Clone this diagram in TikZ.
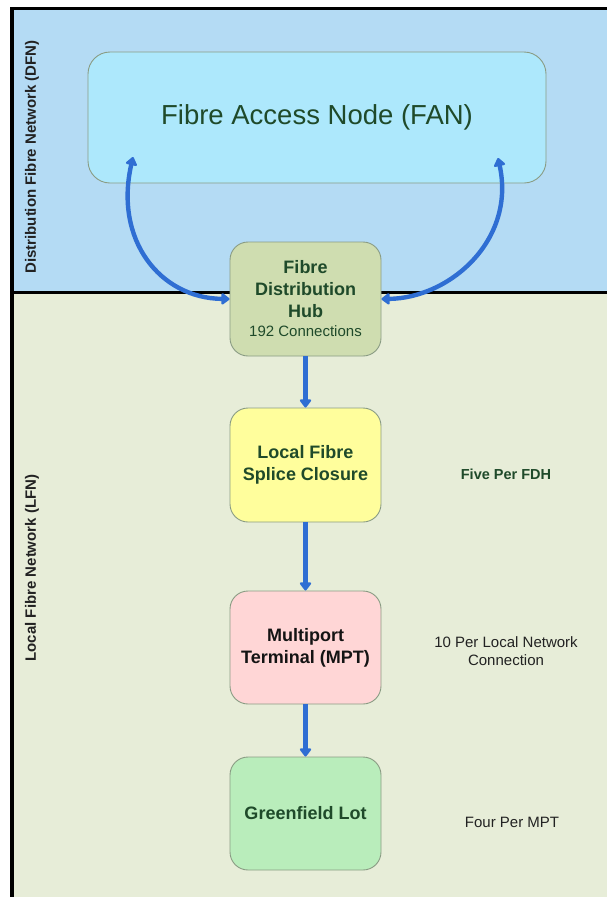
\documentclass[tikz,border=0pt]{standalone}
\usepackage{fontspec}
\setmainfont{Liberation Sans}
\usetikzlibrary{arrows.meta}

\definecolor{dfnbg}{HTML}{B4DBF4}
\definecolor{lfnbg}{HTML}{E7EDD8}
\definecolor{fanfill}{HTML}{ADE8FC}
\definecolor{fdhfill}{HTML}{CFDDB0}
\definecolor{splicefill}{HTML}{FFFE9C}
\definecolor{mptfill}{HTML}{FFD6D6}
\definecolor{lotfill}{HTML}{B9EDBB}
\definecolor{boxline}{HTML}{8A9C84}
\definecolor{flowblue}{HTML}{2F6ED3}
\definecolor{darkgreen}{HTML}{1F4A2A}
\definecolor{labelgrey}{HTML}{222222}

\tikzset{
  unitbox/.style={draw=boxline, line width=0.9pt, rounded corners=18pt,
    minimum width=151pt, minimum height=114pt, inner sep=0pt, align=center,
    font=\bfseries\fontsize{18}{22}\selectfont, text=darkgreen},
  flow/.style={draw=flowblue, line width=4.2pt,
    -{Triangle[width=13pt,length=9pt,round]}},
  bothflow/.style={draw=flowblue, line width=4.4pt,
    {Triangle[width=13pt,length=9pt,round]}-{Triangle[width=13pt,length=9pt,round]}},
  zonelabel/.style={rotate=90, font=\bfseries\fontsize{15}{18}\selectfont,
    text=labelgrey, inner sep=0pt},
  note/.style={align=center, font=\fontsize{15}{18}\selectfont,
    text=labelgrey, inner sep=0pt},
}

\begin{document}
\begin{tikzpicture}[x=1pt,y=-1pt]
  \useasboundingbox (0,0) rectangle (607,897);
  \fill[white] (0,0) rectangle (607,897);

  % network zones
  \fill[dfnbg] (12,8.7) rectangle (607,292);
  \fill[lfnbg] (12,292) rectangle (607,897);
  \draw[line width=3pt] (10.5,8.7) -- (607,8.7);
  \draw[line width=3.5pt] (12.2,7.2) -- (12.2,897);
  \draw[line width=3pt] (12,292) -- (607,292);

  \node[zonelabel] (dfnlabel) at (32,157) {Distribution Fibre Network (DFN)};
  \node[zonelabel] (lfnlabel) at (32,568) {Local Fibre Network (LFN)};

  % access node
  \node[draw=boxline, line width=0.9pt, fill=fanfill, rounded corners=22pt,
        minimum width=458pt, minimum height=131pt, inner sep=0pt,
        font=\fontsize{27.5}{32}\selectfont, text=darkgreen]
        (fan) at (317,117.5) {Fibre Access Node (FAN)};

  % chain of units
  \node[unitbox, fill=fdhfill] (fdh) at (305.5,299)
    {Fibre\\Distribution\\Hub\\[-3pt]{\mdseries\fontsize{15}{18}\selectfont 192 Connections}};
  \node[unitbox, fill=splicefill] (splice) at (305.5,465)
    {Local Fibre\\Splice Closure};
  \node[unitbox, fill=mptfill, minimum height=113pt, text=labelgrey!60!black] (mpt) at (305.5,647.5)
    {Multiport\\Terminal (MPT)};
  \node[unitbox, fill=lotfill, minimum height=113pt] (lot) at (305.5,813.5)
    {Greenfield Lot};

  % quantities
  \node[note, font=\bfseries\fontsize{14.5}{18}\selectfont, text=darkgreen] (fiveper) at (506,474) {Five Per FDH};
  \node[note] (tenper) at (506,651) {10 Per Local Network\\Connection};
  \node[note] (fourper) at (512,822) {Four Per MPT};

  % links between the hub and the access node
  \coordinate (fanleft) at (133,157);
  \coordinate (fanright) at (498,158);
  \draw[bothflow] (fdh.west) .. controls (160,298) and (114,240) .. (fanleft);
  \draw[bothflow] (fdh.east) .. controls (450,298) and (516,240) .. (fanright);

  % downstream links
  \draw[flow] (fdh.south) -- (splice.north);
  \draw[flow] (splice.south) -- (mpt.north);
  \draw[flow] (mpt.south) -- (lot.north);
\end{tikzpicture}
\end{document}
